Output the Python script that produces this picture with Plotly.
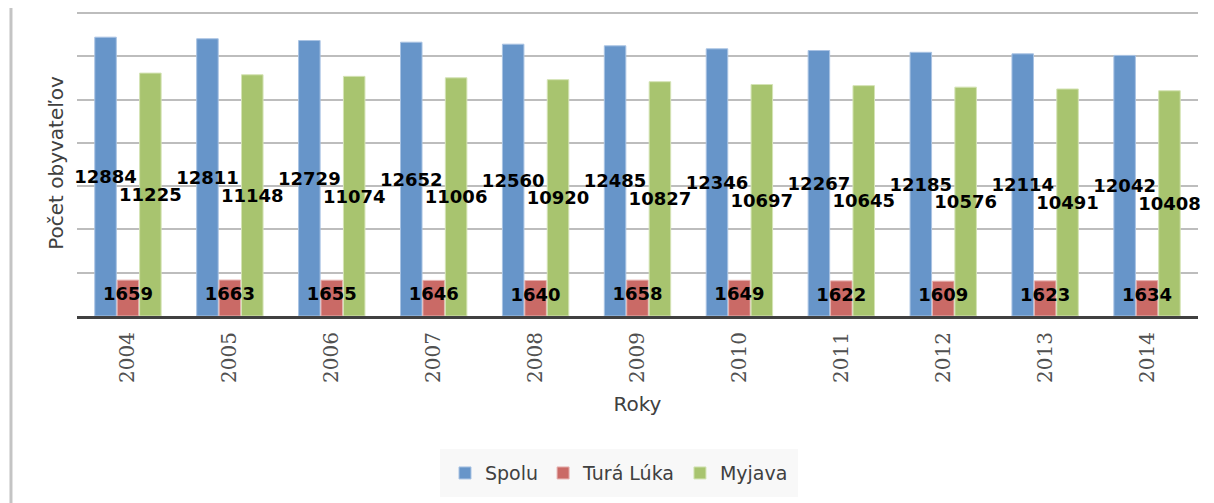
import plotly.graph_objects as go

years = ["2004", "2005", "2006", "2007", "2008", "2009", "2010", "2011", "2012", "2013", "2014"]
spolu = [12884, 12811, 12729, 12652, 12560, 12485, 12346, 12267, 12185, 12114, 12042]
tura_luka = [1659, 1663, 1655, 1646, 1640, 1658, 1649, 1622, 1609, 1623, 1634]
myjava = [11225, 11148, 11074, 11006, 10920, 10827, 10697, 10645, 10576, 10491, 10408]

series = [
    ("Spolu", spolu, "#6795C9", "#A9C3E3", "middle"),
    ("Turá Lúka", tura_luka, "#CA6A66", "#E6B2B0", "end"),
    ("Myjava", myjava, "#A8C46F", "#D4E3B5", "middle"),
]

fig = go.Figure()
# bars
for name, vals, col, edge, anchor in series:
    fig.add_trace(go.Bar(
        name=name, x=years, y=vals, offsetgroup=name,
        marker=dict(color=col, line=dict(color=edge, width=1)),
    ))
# value labels drawn on top of all bars
for name, vals, col, edge, anchor in series:
    fig.add_trace(go.Bar(
        name=name, x=years, y=vals, offsetgroup=name, showlegend=False,
        marker=dict(color="rgba(0,0,0,0)", line=dict(width=0)),
        text=[str(v) for v in vals],
        textposition="inside", insidetextanchor=anchor, textangle=0,
        textfont=dict(family="DejaVu Sans", size=18, color="black", weight="bold"),
        cliponaxis=False, hoverinfo="skip",
    ))

fig.update_layout(
    width=1206, height=495,
    margin=dict(l=69, r=16, t=2, b=187),
    barmode="group", bargap=0.34, bargroupgap=0.04,
    uniformtext=dict(minsize=18, mode="show"),
    plot_bgcolor="white", paper_bgcolor="white",
    showlegend=True,
    legend=dict(
        orientation="h", x=0.4835, xanchor="center", y=-0.435, yanchor="top",
        bgcolor="#F8F8F8", bordercolor="#F8F8F8", borderwidth=5,
        font=dict(family="DejaVu Sans", size=19, color="#404040"),
        itemwidth=30,
    ),
    xaxis=dict(
        type="category", tickangle=-90,
        tickfont=dict(family="DejaVu Serif", size=20, color="#505050"),
        ticklabelstandoff=5,
        showline=True, linecolor="#404040", linewidth=3,
        ticks="", showgrid=False,
        title=dict(text="Roky", font=dict(family="DejaVu Sans", size=20, color="#404040"), standoff=16),
    ),
    yaxis=dict(
        range=[0, 14140], dtick=2000, showticklabels=False,
        showgrid=True, gridcolor="#BDBDBD", gridwidth=2, zeroline=False,
        showline=False, ticks="",
        title=dict(text="Počet obyvateľov", font=dict(family="DejaVu Sans", size=20, color="#404040"), standoff=7),
    ),
    shapes=[dict(type="line", xref="paper", yref="paper", x0=-0.0589, x1=-0.0589, y0=-0.64, y1=1.06,
                 line=dict(color="#C4C4C4", width=3), layer="above")],
)

fig.write_html("out.html")
